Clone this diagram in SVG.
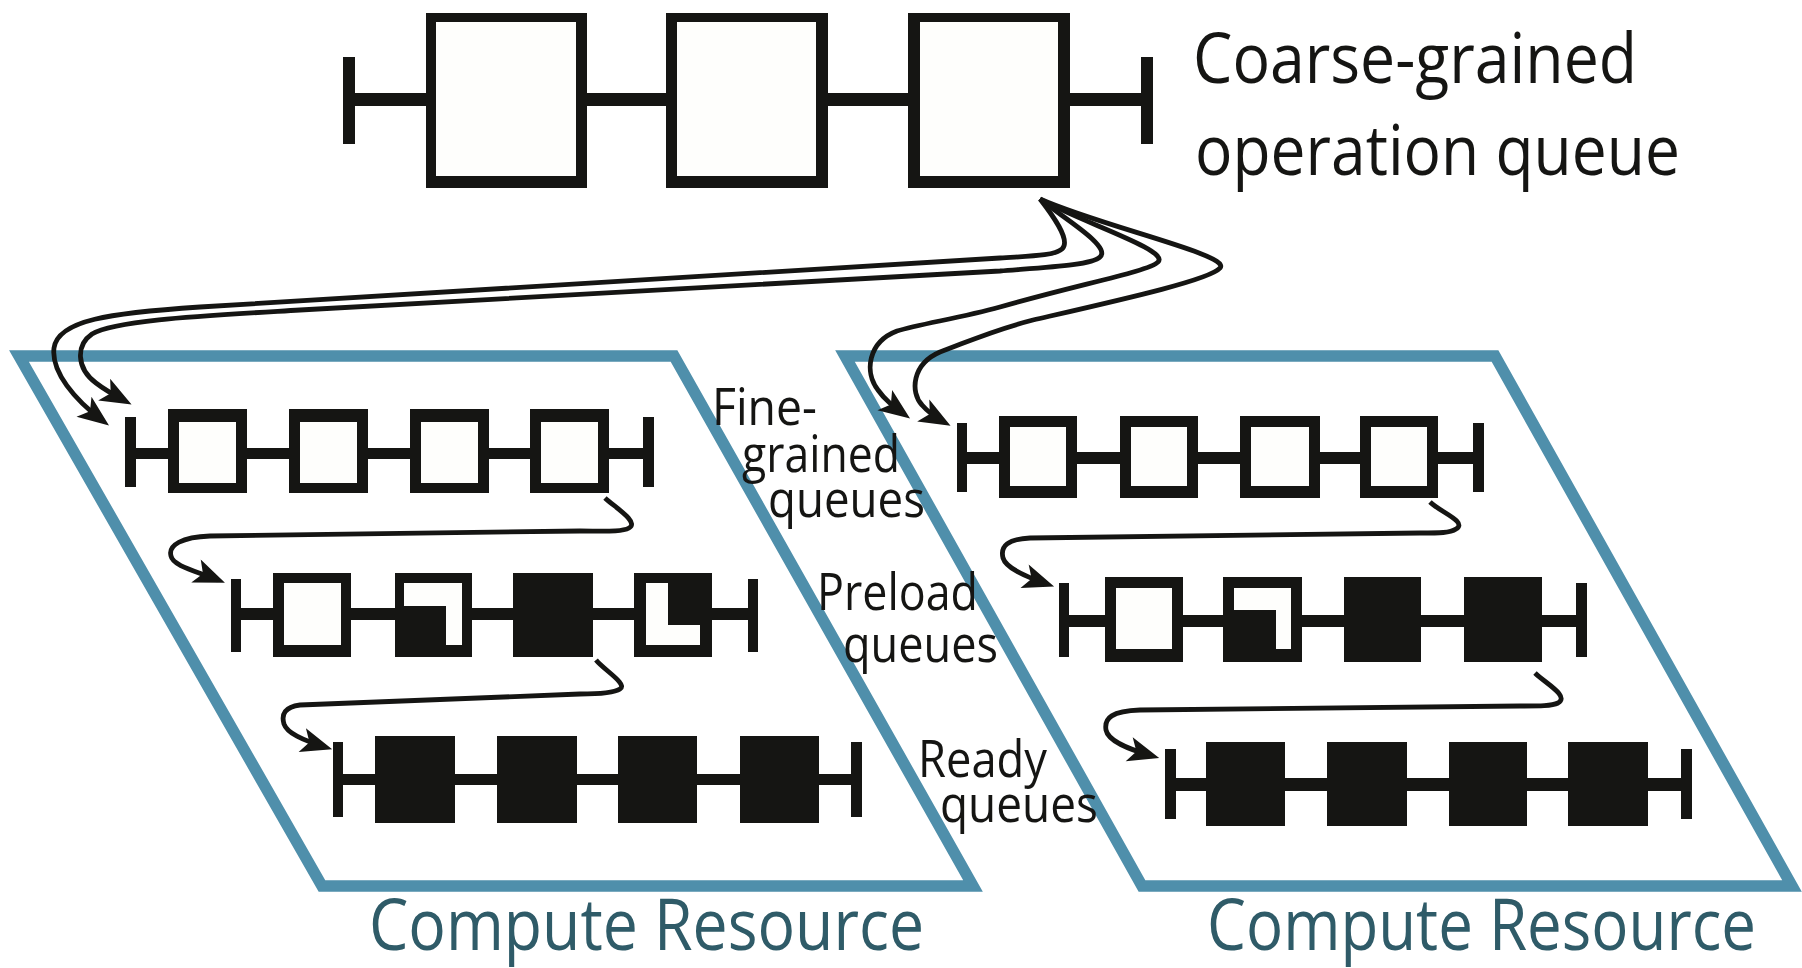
<svg xmlns="http://www.w3.org/2000/svg" width="1802" height="968" viewBox="0 0 1802 968">
  <defs>
    <style>
      .k { fill: #151513; }
      .w { fill: #fefefc; }
      .res { fill: none; stroke: #4f8fab; stroke-width: 11.5; stroke-linejoin: miter; stroke-miterlimit: 10; }
      .lbl { font-family: "Open Sans", "Noto Sans", sans-serif; fill: #151513; }
      .big { font-size: 70px; }
      .mid { font-size: 52px; }
      .cr { font-family: "Open Sans", "Noto Sans", sans-serif; font-size: 72px; fill: #2f5b68; }
      .conn { fill: none; stroke: #151513; stroke-width: 4.8; stroke-linecap: butt; stroke-linejoin: round; marker-end: url(#head); }
    </style>
    <marker id="head" markerUnits="userSpaceOnUse" markerWidth="40" markerHeight="40" viewBox="-24 -12 32 24" refX="0" refY="0" orient="auto" overflow="visible">
      <path d="M6,0 L-19,-10 L-13,0 L-19,10 Z" fill="#151513"/>
    </marker>
  </defs>

  <rect width="1802" height="968" fill="#ffffff"/>

  <!-- compute resource outlines -->
  <g id="resource-left">
    <path class="res" d="M19,356 L674,356 L973,886 L322,886 Z"/>
    <text class="cr" x="369" y="950" textLength="555" lengthAdjust="spacingAndGlyphs">Compute Resource</text>
  </g>
  <g id="resource-right">
    <path class="res" d="M845,356 L1495,356 L1792,886 L1142,886 Z"/>
    <text class="cr" x="1207" y="950" textLength="549" lengthAdjust="spacingAndGlyphs">Compute Resource</text>
  </g>

  <!-- coarse-grained operation queue -->
  <g id="coarse-queue">
    <rect class="k" x="343" y="57" width="12" height="87"/>
    <rect class="k" x="355" y="93" width="786" height="13"/>
    <rect class="k" x="1141" y="57" width="12" height="87"/>
    <rect class="k" x="426" y="13" width="161" height="175"/>
    <rect class="w" x="436" y="22" width="140" height="154"/>
    <rect class="k" x="666" y="13" width="162" height="175"/>
    <rect class="w" x="677" y="22" width="139" height="154"/>
    <rect class="k" x="908" y="13" width="162" height="175"/>
    <rect class="w" x="920" y="22" width="138" height="154"/>
  </g>
  <g id="coarse-label">
    <text class="lbl big" x="1193" y="83" textLength="444" lengthAdjust="spacingAndGlyphs">Coarse-grained</text>
    <text class="lbl big" x="1195" y="175" textLength="485" lengthAdjust="spacingAndGlyphs">operation queue</text>
  </g>

  <!-- left resource: fine-grained queue -->
  <g id="left-fine-queue">
    <rect class="k" x="125" y="417" width="11" height="70"/>
    <rect class="k" x="136" y="448" width="507" height="11"/>
    <rect class="k" x="643" y="417" width="11" height="70"/>
    <rect class="k" x="168" y="409" width="79" height="84"/>
    <rect class="w" x="179" y="422" width="57" height="61"/>
    <rect class="k" x="289" y="409" width="79" height="84"/>
    <rect class="w" x="300" y="422" width="57" height="61"/>
    <rect class="k" x="410" y="409" width="79" height="84"/>
    <rect class="w" x="421" y="422" width="57" height="61"/>
    <rect class="k" x="530" y="409" width="79" height="84"/>
    <rect class="w" x="541" y="422" width="57" height="61"/>
  </g>

  <!-- left resource: preload queue -->
  <g id="left-preload-queue">
    <rect class="k" x="231" y="579" width="10" height="73"/>
    <rect class="k" x="241" y="608" width="507" height="12"/>
    <rect class="k" x="748" y="579" width="10" height="73"/>
    <rect class="k" x="273" y="573" width="78" height="84"/>
    <rect class="w" x="284" y="583" width="57" height="62"/>
    <rect class="k" x="395" y="573" width="77" height="84"/>
    <rect class="w" x="404" y="583" width="58" height="23"/>
    <rect class="w" x="446" y="583" width="16" height="62"/>
    <rect class="k" x="513" y="573" width="80" height="84"/>
    <rect class="k" x="634" y="573" width="78" height="84"/>
    <rect class="w" x="646" y="583" width="22" height="62"/>
    <rect class="w" x="646" y="625" width="54" height="20"/>
  </g>

  <!-- left resource: ready queue -->
  <g id="left-ready-queue">
    <rect class="k" x="333" y="742" width="10" height="75"/>
    <rect class="k" x="343" y="774" width="508" height="11"/>
    <rect class="k" x="851" y="742" width="11" height="75"/>
    <rect class="k" x="375" y="736" width="80" height="87"/>
    <rect class="k" x="497" y="736" width="80" height="87"/>
    <rect class="k" x="618" y="736" width="79" height="87"/>
    <rect class="k" x="740" y="736" width="79" height="87"/>
  </g>

  <!-- right resource: fine-grained queue -->
  <g id="right-fine-queue">
    <rect class="k" x="957" y="423" width="10" height="69"/>
    <rect class="k" x="967" y="452" width="506" height="12"/>
    <rect class="k" x="1473" y="423" width="11" height="69"/>
    <rect class="k" x="999" y="416" width="78" height="82"/>
    <rect class="w" x="1010" y="427" width="56" height="59"/>
    <rect class="k" x="1120" y="416" width="78" height="82"/>
    <rect class="w" x="1131" y="427" width="56" height="59"/>
    <rect class="k" x="1240" y="416" width="80" height="82"/>
    <rect class="w" x="1251" y="427" width="58" height="59"/>
    <rect class="k" x="1360" y="416" width="78" height="82"/>
    <rect class="w" x="1371" y="427" width="56" height="59"/>
  </g>

  <!-- right resource: preload queue -->
  <g id="right-preload-queue">
    <rect class="k" x="1059" y="583" width="10" height="74"/>
    <rect class="k" x="1069" y="615" width="507" height="12"/>
    <rect class="k" x="1576" y="583" width="11" height="74"/>
    <rect class="k" x="1105" y="577" width="78" height="85"/>
    <rect class="w" x="1116" y="588" width="56" height="61"/>
    <rect class="k" x="1223" y="577" width="79" height="85"/>
    <rect class="w" x="1234" y="588" width="57" height="22"/>
    <rect class="w" x="1276" y="588" width="15" height="61"/>
    <rect class="k" x="1344" y="577" width="77" height="85"/>
    <rect class="k" x="1464" y="577" width="78" height="85"/>
  </g>

  <!-- right resource: ready queue -->
  <g id="right-ready-queue">
    <rect class="k" x="1165" y="749" width="11" height="70"/>
    <rect class="k" x="1176" y="778" width="505" height="13"/>
    <rect class="k" x="1681" y="749" width="11" height="70"/>
    <rect class="k" x="1206" y="742" width="79" height="84"/>
    <rect class="k" x="1327" y="742" width="80" height="84"/>
    <rect class="k" x="1449" y="742" width="78" height="84"/>
    <rect class="k" x="1568" y="742" width="80" height="84"/>
  </g>

  <!-- stage labels -->
  <g id="stage-labels">
    <text class="lbl mid" x="712" y="425" textLength="105" lengthAdjust="spacingAndGlyphs">Fine-</text>
    <text class="lbl mid" x="742" y="472" textLength="158" lengthAdjust="spacingAndGlyphs">grained</text>
    <text class="lbl mid" x="768" y="517" textLength="157" lengthAdjust="spacingAndGlyphs">queues</text>
    <text class="lbl mid" x="817" y="610" textLength="161" lengthAdjust="spacingAndGlyphs">Preload</text>
    <text class="lbl mid" x="843" y="662" textLength="155" lengthAdjust="spacingAndGlyphs">queues</text>
    <text class="lbl mid" x="918" y="777" textLength="129" lengthAdjust="spacingAndGlyphs">Ready</text>
    <text class="lbl mid" x="940" y="822" textLength="158" lengthAdjust="spacingAndGlyphs">queues</text>
  </g>

  <!-- connectors -->
  <g id="connectors">
    <!-- coarse queue to the fine-grained queues -->
    <path class="conn" d="M1040,199 C1050,212 1072,240 1062,249 C1054,256 1030,256 1000,258 L200,307 C110,313 58,320 54,348 C51,372 75,400 103,421"/>
    <path class="conn" d="M1040,199 C1060,216 1112,246 1100,257 C1092,265 1050,267 1000,271 L300,310 C200,316 115,320 92,334 C76,345 76,368 96,383 C105,390 114,395 125,401"/>
    <path class="conn" d="M1040,199 C1080,222 1170,250 1158,262 C1150,271 1080,284 1000,307 C960,318 920,324 897,331 C868,342 864,372 878,390 C885,400 893,406 904,414"/>
    <path class="conn" d="M1040,199 C1100,226 1232,255 1220,268 C1210,280 1120,300 1033,320 C990,331 965,343 940,352 C912,364 910,392 922,405 C928,412 935,417 944,422"/>
    <!-- fine-grained to preload -->
    <path class="conn" d="M605,498 C613,506 640,522 629,528 C622,532 605,531 580,531 L210,536 C182,537 168,545 171,556 C173,566 196,571 218,580"/>
    <path class="conn" d="M1430,502 C1440,512 1468,522 1456,529 C1450,533 1440,533 1420,533 L1030,538 C1008,539 1000,546 1003,558 C1006,568 1024,576 1047,584"/>
    <!-- preload to ready -->
    <path class="conn" d="M596,660 C604,670 628,684 620,689 C614,693 600,694 580,694 L300,705 C285,707 281,714 284,724 C287,733 302,740 325,747"/>
    <path class="conn" d="M1535,673 C1545,683 1570,696 1558,703 C1552,706 1540,706 1520,706 L1140,710 C1112,711 1104,718 1106,730 C1108,741 1128,749 1152,756"/>
  </g>
</svg>
